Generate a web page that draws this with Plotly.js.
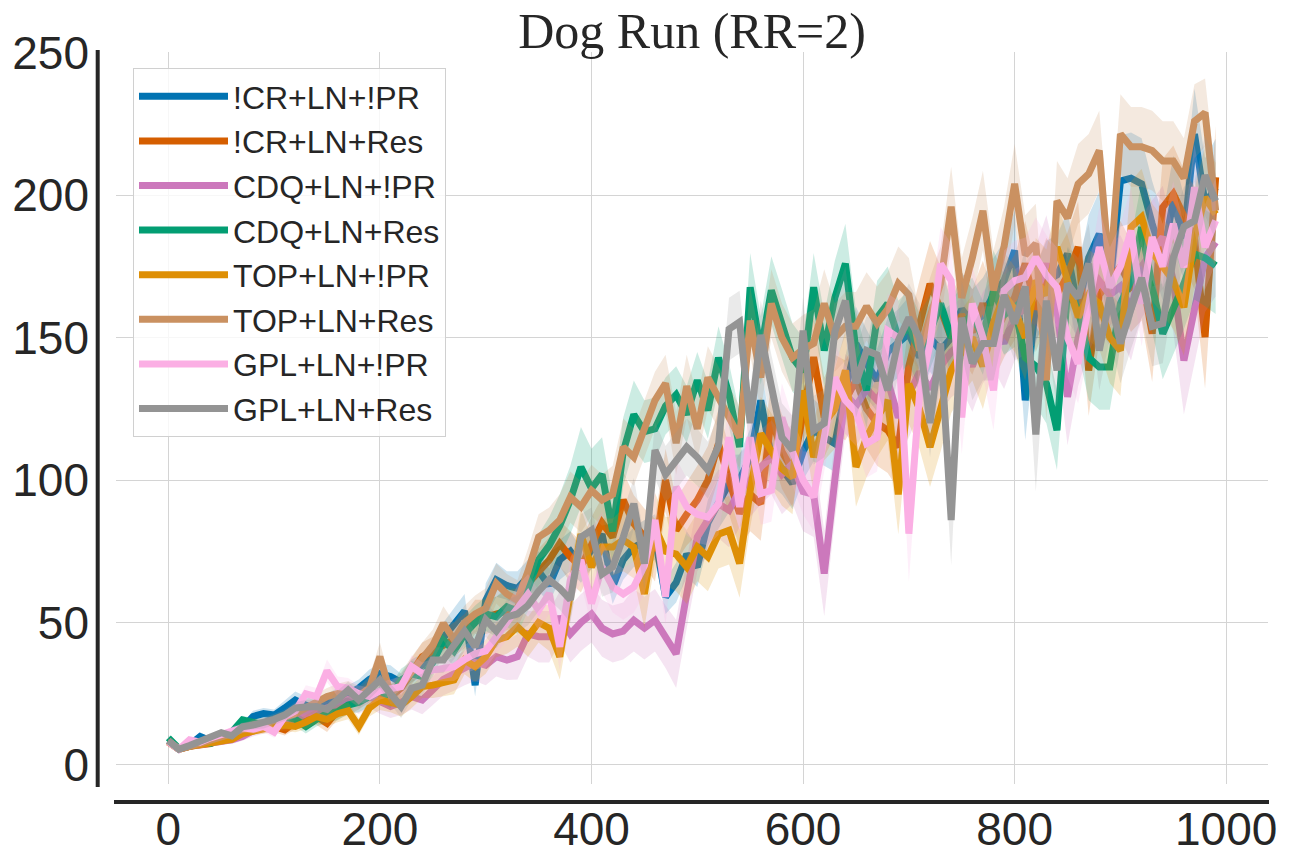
<!DOCTYPE html>
<html>
<head>
<meta charset="utf-8">
<script src="https://cdn.plot.ly/plotly-3.0.1.min.js"></script>
<style>html,body{margin:0;padding:0;background:#fff;}#chart{width:1296px;height:864px;}</style>
</head>
<body>
<div id="chart"></div>
<script>
var steps = [];
for (var s = 0; s <= 990; s += 10) steps.push(s);

var seriesNames = ["!CR+LN+!PR","!CR+LN+Res","CDQ+LN+!PR","CDQ+LN+Res","TOP+LN+!PR","TOP+LN+Res","GPL+LN+!PR","GPL+LN+Res"];
var seriesColors = ["#0173b2","#d55e00","#cc78bc","#029e73","#de8f05","#ca9161","#fbafe4","#949494"];

var crPR = [8.5,5.5,7,10,8.5,9.5,11,13,17,18, 17.5,20,22.8,21,20,22,24,25,27,30, 32,31,29,33,35,40,45,50,54,28, 57.8,65,63,62,66,68,63,72,75,70, 76,81,62.5,72,76.5,78,80,59,64,74, 69.5,85,92,98.8,100,108,128,108,104,98.8, 110,117.5,115,112.8,131.5,147.9,140.9,135,145,148, 151.4,143.2,150,145.5,150,160,155,158,165,170, 180.6,128,162,170,172,179.4,160,178,186.4,168, 205,206,204,190,178,198,185,221.5,197,202.8];
var crRes = [8,5.5,6.5,7,7.5,9,10.5,12,13,14, 13.5,12.3,15,16,17,14.6,19,21,23,26, 25,24,27,33,38,40,42,44,47,52, 52,53,54.3,55,63.7,68,71.9,77.7,73,69.5, 78,85,80,93,84.7,80,75.4,100,82.4,88, 93,100,112.8,100,88.3,95,91.7,122,110,103.5, 125,143.2,122,130,128,135,125,120,117.5,111.6, 140,155,168.9,160,150,158,152,162,150,158, 164.2,176,160,170,165,172,181.8,138.5,165,170, 175,168,172,151.4,195.8,200.5,192,185,150.2,206.3];
var cdqPR = [8.5,5.5,6.5,7,8,8.5,8.8,10,12,13, 14,15,16,18,19,20,21,23,22,24, 22,20.5,22,24,22.8,26,30,32,34,36, 35,38,36.8,38,46,45,45,52,46,50, 53,48,46,47,50.8,48,50.8,45,39,60, 80,86,91.7,89.4,96.4,100,104.6,108,102,105.8, 96,95,67.2,100,130.3,126,132,128,135,122, 130,138,132,140,145,148,140,150,155,148, 158,160,165,176,160,129.2,150,162,170,165, 168,160,175,180,185.3,170,142,160,178,183.5];
var cdqRes = [9.5,5.8,6.5,7.5,7.5,9.5,11.5,15.8,15,14, 15.5,17,16,13.5,16,18,18.7,21,22,24, 26,24,29.8,32,31,36,43.8,40,46,50, 53,52,55.5,54,62,72,77,84,93,104.6, 97,102,82,110,123,117,118,126,130,123, 135,124.5,143,130,111.6,167.7,145.5,166.6,155,143, 138,167.7,145.5,164,176,145.5,131.5,157,162,150, 153.7,145.5,152,162,150,155,158,150,166.6,158, 160.7,143,140,134,117.5,166.6,160,143,139.7,139.7, 162,170,188.8,168,151.4,160,169,179.4,178,175.3];
var topPR = [8,5.5,6.5,7,7.5,8,9,11,12,13, 13.5,14,13.5,15,17,16,18,19,13.5,20, 22.8,22,21,24,27.5,28,28.6,29.8,36.8,34.5, 38,43.8,45,48.5,45,50,48,38,60,81, 69.5,76.5,76.5,79,76.5,60,83.5,75,74,69.5, 76.5,73,81,82.4,70.7,96.4,116.3,110.5,104,101, 131.5,108,120,125,138.5,104.6,115,122,128,95, 133.8,125,111.6,125,138.5,145,150,140,155,165, 160,150,170,165,181.8,170,157.2,165,162,150, 145.5,188.8,192.3,180,175,170,160.7,185,199.3,193.4];
var topRes = [8.5,5.5,6.5,7.5,9,10,11,12.5,14,14.5, 15.5,16.5,18,20,22,24,25,26,24,27, 38,25,28,33,38,42,49.7,44,50,53, 55,63.7,60,57.8,68,80,82.4,86,94,90.6, 96.4,93,95,111.6,108,118,128,134,113,133, 118,136,129,122,115,156,136,162,150,143, 146,148,162,150,154,154,161,155,160,169, 165,145.5,158,169,196,164,178,194.6,166.6,182, 204,179,183,135,198,192,204,207.5,215.7,171, 221.5,217,217,215.7,212,212,206,226,229,194.6];
var gplPR = [8,5.5,8.8,8,9.5,10.5,12,13,12.5,13.5, 11.5,17,19,25,24,33,27.5,27,25,24, 26,27,27.5,34.5,32,33.3,34,34.5,37,39, 40,45,50,56,60,54.3,60.2,41.5,64.9,71.9, 56.7,69.5,62.5,60,62.5,70,86,59,97.6,90.6, 88,87,91.7,115,90.6,115,95.3,96.4,122,110, 100,94,115,136,128,124,112.8,115,152.5,150, 81.2,130,147.9,175.9,170,122,162,150,131.5,166.6, 170,171.2,178.2,172,167.7,150,140.9,160,181.8,167.7, 175,187.6,161.9,185.3,175,190,174.7,202.8,181.8,191.1];
var gplRes = [8.5,5.5,6.8,8.2,9.5,11.3,10.2,13.4,14,14.8, 16,17.5,20,20.3,20.5,19.5,23,26.3,22.8,26, 29.8,25,20.5,26.9,28,36.8,36.8,42,47,41.5, 51,47,52,53,56,61,65,62,58,80, 82.4,67,69.5,80,91.7,70.7,110.5,102,107,111.6, 108,103.5,112,153,155.5,120,151,132,115,110.5, 152.5,117.5,120,152,163,134,145.5,144,131.5,149, 157,150,120,148,86,157,141,148,148,165, 155,168,116,163,138.5,169,164,176,145.5,164, 148,160,171,154,155,178,189,191,207,198];

var crPRSpread = [1,0.5,1,1.5,1,1,1.5,1.5,2,2, 2,2.5,3,3,2.5,3,3,3,3,3.5, 3.5,4,3,4,4,4,5,5,6,4, 6,6,5,6,6,7,6,7,7,6, 7,8,6,7,7,8,8,6,7,8, 7,8,9,10,9,10,12,10,9,9, 10,11,10,10,12,13,12,11,12,12, 13,12,12,13,12,13,12,13,13,14, 14,14,13,14,14,15,14,15,15,14, 16,16,16,15,15,16,15,16,16,17];
var crResSpread = [1,0.5,1,1,1,1.5,1.5,1.5,2,2, 2,2,2.5,2.5,3,3,3,3.5,3.5,4, 4,4,4,4.5,5,5,5.5,6,6,6, 6,6,7,7,7,8,8,8,9,9, 9,9,10,10,10,10,11,11,11,11, 12,12,12,12,12,13,13,13,13,13, 13,14,14,14,14,14,14,15,15,15, 15,15,15,15,15,15,15,15,15,15, 15,15,15,15,15,15,16,16,16,16, 16,16,16,17,17,17,17,18,18,18];
var cdqPRSpread = [1,0.5,1,1,1,1,1.5,1.5,2,2, 2,2.5,2.5,3,3,3,3.5,3.5,4,4, 4,4,4.5,4.5,5,5,5.5,6,6,6.5, 7,7,7,8,8,9,9,9,10,10, 10,10,10,10,11,11,11,11,12,12, 12,12,12,13,13,13,13,13,14,14, 14,15,15,14,14,14,14,15,15,15, 15,15,15,16,16,16,16,16,16,16, 16,16,17,17,17,17,17,17,17,18, 18,18,18,18,18,18,19,19,19,19];
var cdqResSpread = [1,0.5,1,1,1,1,1.5,1.5,1.5,2, 2,2,2.5,2.5,2.5,3,3,3,3.5,3.5, 4,4,4,4.5,4.5,5,5,5.5,6,6, 6,7,7,8,8,9,10,11,12,14, 14,13,12,12,12,11,11,10,10,10, 10,10,11,11,12,12,12,12,12,12, 12,12,13,13,14,14,13,13,13,13, 13,13,13,13,13,13,13,13,14,14, 14,14,14,14,14,15,15,15,15,15, 15,15,16,16,16,16,16,16,17,17];
var topPRSpread = [1,0.5,1,1,1,1,1,1.5,1.5,2, 2,2,2,2.5,2.5,2.5,3,3,3,3, 3.5,3.5,4,4,4,4.5,4.5,5,5,5.5, 6,6,6,7,7,7,8,8,9,9, 10,10,10,11,11,12,12,12,13,13, 12,12,12,12,12,13,13,13,13,13, 13,13,13,14,14,14,14,14,14,14, 14,14,14,15,15,15,15,15,15,15, 15,15,15,16,16,16,16,16,16,16, 16,16,17,17,17,17,17,17,18,18];
var topResSpread = [1,0.5,1,1,1,1,1.5,1.5,2,2, 2,2.5,2.5,3,3,3,3.5,3.5,3.5,4, 5,4,4.5,5,5,5.5,6,6,6,6.5, 7,7,7,7,8,8,8,9,9,9, 9,9,10,10,10,10,10,10,11,11, 11,11,11,11,11,12,12,12,12,12, 12,12,12,12,12,12,12,13,13,13, 13,13,13,13,14,14,14,14,14,14, 14,14,14,14,14,14,14,14,14,14, 14,14,14,14,14,14,14,13,12,12];
var gplPRSpread = [1,0.5,1,1,1,1,1.5,1.5,1.5,2, 2,2,2.5,3,3,4,3.5,3.5,3,3, 3,3,3.5,4,4,4,4.5,5,5,5.5, 6,6,6,7,7,7,7,8,8,8, 8,9,9,9,9,10,10,10,10,10, 10,10,11,11,11,11,11,11,12,12, 12,12,12,12,12,12,12,12,13,13, 17,14,13,13,13,13,13,13,14,14, 14,14,14,14,14,14,14,14,14,14, 15,15,15,15,15,15,15,15,15,15];
var gplResSpread = [1,0.5,1,1,1,1,1.5,1.5,1.5,2, 2,2,2,2.5,2.5,2.5,3,3,3,3, 3,3.5,4,4,4,4.5,4.5,5,5,5.5, 6,6,6,6.5,7,7,7,7.5,8,8, 8,8,9,9,9,9,10,10,10,10, 10,10,11,11,11,12,12,12,12,12, 12,12,12,12,12,12,12,12,12,12, 12,12,12,12,16,13,13,13,13,13, 13,13,20,13,13,13,14,14,14,14, 14,14,14,14,14,14,14,14,14,14];

var xTicks = [0,200,400,600,800,1000];
var yTicks = [0,50,100,150,200,250];

var means = [crPR, crRes, cdqPR, cdqRes, topPR, topRes, gplPR, gplRes];
var spreads = [crPRSpread, crResSpread, cdqPRSpread, cdqResSpread, topPRSpread, topResSpread, gplPRSpread, gplResSpread];

function rgba(hex, a) {
  var r = parseInt(hex.substr(1,2),16), g = parseInt(hex.substr(3,2),16), b = parseInt(hex.substr(5,2),16);
  return 'rgba(' + r + ',' + g + ',' + b + ',' + a + ')';
}

var traces = [];
for (var k = 0; k < means.length; k++) {
  var m = means[k], sp = spreads[k];
  var up = m.map(function (v, i) { return v + sp[i]; });
  var lo = m.map(function (v, i) { return v - sp[i]; });
  traces.push({
    x: steps.concat(steps.slice().reverse()),
    y: up.concat(lo.slice().reverse()),
    type: 'scatter', mode: 'lines', fill: 'toself',
    fillcolor: rgba(seriesColors[k], 0.2),
    line: {width: 0, color: rgba(seriesColors[k], 0)},
    showlegend: false, hoverinfo: 'skip', legendgroup: 'g' + k
  });
  traces.push({
    x: steps, y: m, type: 'scatter', mode: 'lines',
    name: seriesNames[k],
    line: {color: seriesColors[k], width: 7},
    legendgroup: 'g' + k
  });
}

var L = 116, R = 1268, T = 52, B = 784, W = 1152, H = 732;
function px(p) { return (p - L) / W; }
function py(p) { return (B - p) / H; }

var layout = {
  width: 1296, height: 864,
  margin: {l: L, r: 1296 - R, t: T, b: 864 - B, pad: 0},
  paper_bgcolor: '#ffffff', plot_bgcolor: '#ffffff',
  font: {family: 'Liberation Sans, Arial, sans-serif', color: '#262626'},
  title: {
    text: 'Dog Run (RR=2)',
    font: {family: 'Liberation Serif, Times New Roman, serif', size: 50, color: '#262626'},
    x: 0.534, xanchor: 'center', xref: 'container',
    y: 0.965, yanchor: 'middle', yref: 'container'
  },
  xaxis: {
    range: [-49.5, 1039.5], tickvals: xTicks, ticktext: xTicks.map(String),
    showgrid: true, gridcolor: '#d4d4d4', gridwidth: 1, zeroline: false,
    showline: false, ticks: '', tickfont: {size: 46, color: '#262626'},
    ticklabelstandoff: 14
  },
  yaxis: {
    range: [-6.7, 250.3], tickvals: yTicks, ticktext: yTicks.map(String),
    showgrid: true, gridcolor: '#d4d4d4', gridwidth: 1, zeroline: false,
    showline: false, ticks: '', tickfont: {size: 46, color: '#262626'},
    ticklabelstandoff: 26
  },
  legend: {
    x: px(133), y: py(68), xanchor: 'left', yanchor: 'top',
    bgcolor: 'rgba(255,255,255,0.8)', bordercolor: '#d0d0d0', borderwidth: 1,
    font: {size: 32, color: '#262626'},
    traceorder: 'grouped', tracegroupgap: 0, itemwidth: 89
  },
  shapes: [
    {type: 'line', xref: 'paper', yref: 'paper', x0: px(97.7), x1: px(97.7), y0: py(787), y1: py(50), line: {color: '#262626', width: 4}},
    {type: 'line', xref: 'paper', yref: 'paper', x0: px(114), x1: px(1269), y0: py(802), y1: py(802), line: {color: '#262626', width: 4}}
  ],
  showlegend: true
};

Plotly.newPlot('chart', traces, layout, {displayModeBar: false, staticPlot: true});
</script>
</body>
</html>
